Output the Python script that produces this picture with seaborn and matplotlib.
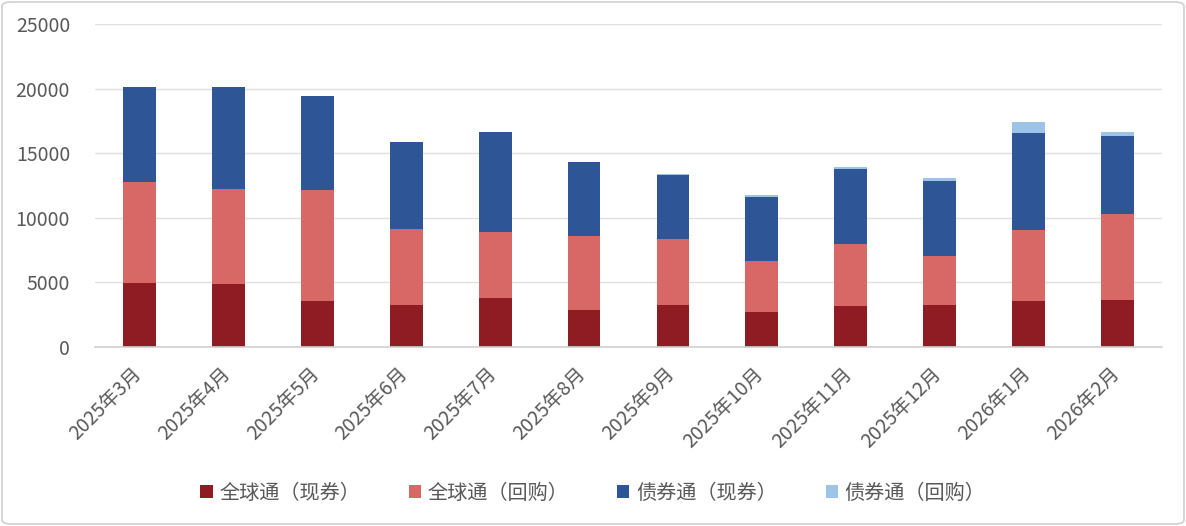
import matplotlib
matplotlib.use("Agg")
import matplotlib.pyplot as plt
import matplotlib.transforms as mtransforms
import seaborn as sns
import numpy as np
import pandas as pd
from matplotlib.patches import Patch, FancyBboxPatch
from matplotlib.ticker import FixedLocator

months = ["2025年3月", "2025年4月", "2025年5月", "2025年6月", "2025年7月", "2025年8月",
          "2025年9月", "2025年10月", "2025年11月", "2025年12月", "2026年1月", "2026年2月"]
global_spot = [4970, 4870, 3560, 3250, 3790, 2860, 3250, 2700, 3170, 3250, 3560, 3630]
global_repo = [7790, 7340, 8580, 5870, 5100, 5720, 5100, 3950, 4790, 3780, 5490, 6650]
bond_spot = [7340, 7890, 7260, 6730, 7730, 5720, 4950, 4950, 5800, 5800, 7500, 6030]
bond_repo = [0, 0, 0, 0, 0, 0, 70, 150, 150, 230, 850, 310]

series_names = ["全球通（现券）", "全球通（回购）", "债券通（现券）", "债券通（回购）"]
colors = ["#8E1C22", "#D86865", "#2E5696", "#9DC3E6"]

sns.set_theme(style="white")
plt.rcParams['font.family'] = ['Noto Sans CJK SC', 'DejaVu Sans']

df = pd.DataFrame({"month": months, "s1": global_spot, "s2": global_repo,
                   "s3": bond_spot, "s4": bond_repo})
df["c1"] = df["s1"]
df["c2"] = df["c1"] + df["s2"]
df["c3"] = df["c2"] + df["s3"]
df["c4"] = df["c3"] + df["s4"]

fig = plt.figure(figsize=(11.86, 5.26), dpi=100)
ax = fig.add_axes([95 / 1186, 1 - 347 / 526, (1162 - 95) / 1186, (347 - 24) / 526])

for col, c in zip(["c4", "c3", "c2", "c1"], colors[::-1]):
    sns.barplot(data=df, x="month", y=col, color=c, width=0.37, ax=ax,
                saturation=1, errorbar=None, order=months, linewidth=0)

ax.set_xlim(-0.5, 11.5)
ax.set_ylim(0, 25000)
ax.set_yticks(np.arange(0, 25001, 5000))
ax.yaxis.grid(True, color="#E0E0E0", linewidth=1)
ax.set_axisbelow(True)
ax.set_xlabel("")
ax.set_ylabel("")
for s in ["top", "right", "left"]:
    ax.spines[s].set_visible(False)
ax.spines["bottom"].set_color("#D0D0D0")
ax.spines["bottom"].set_linewidth(1.2)

ax.tick_params(axis="y", length=0, labelsize=14, labelcolor="#595959", pad=18)
ax.tick_params(axis="x", which="major", length=0, labelsize=14, labelcolor="#595959", pad=12)
ax.xaxis.set_minor_locator(FixedLocator(np.arange(-0.5, 12, 1)))
ax.tick_params(axis="x", which="minor", length=5, color="#D0D0D0", width=1.2, direction="out")
ax.set_xticks(range(12))
ax.set_xticklabels(months, rotation=45, ha="right", rotation_mode="anchor")
offset = mtransforms.ScaledTranslation(-6 / 72, 0, fig.dpi_scale_trans)
for lbl in ax.get_xticklabels():
    lbl.set_transform(lbl.get_transform() + offset)

handles = [Patch(facecolor=c, edgecolor="none") for c in colors]
fig.legend(handles, series_names, loc="center", bbox_to_anchor=(0.5, 1 - 493 / 526),
           ncol=4, frameon=False, prop={"size": 14.5}, handlelength=0.6, handleheight=0.6,
           columnspacing=2.4, handletextpad=0.35, labelcolor="#595959")

border = FancyBboxPatch((2 / 1186, 2 / 526), 1 - 4 / 1186, 1 - 4 / 526,
                        boxstyle="round,pad=0,rounding_size=0.008",
                        transform=fig.transFigure, facecolor="none",
                        edgecolor="#D0D0D0", linewidth=1.2)
fig.patches.append(border)

fig.savefig("out.png", dpi=100)
